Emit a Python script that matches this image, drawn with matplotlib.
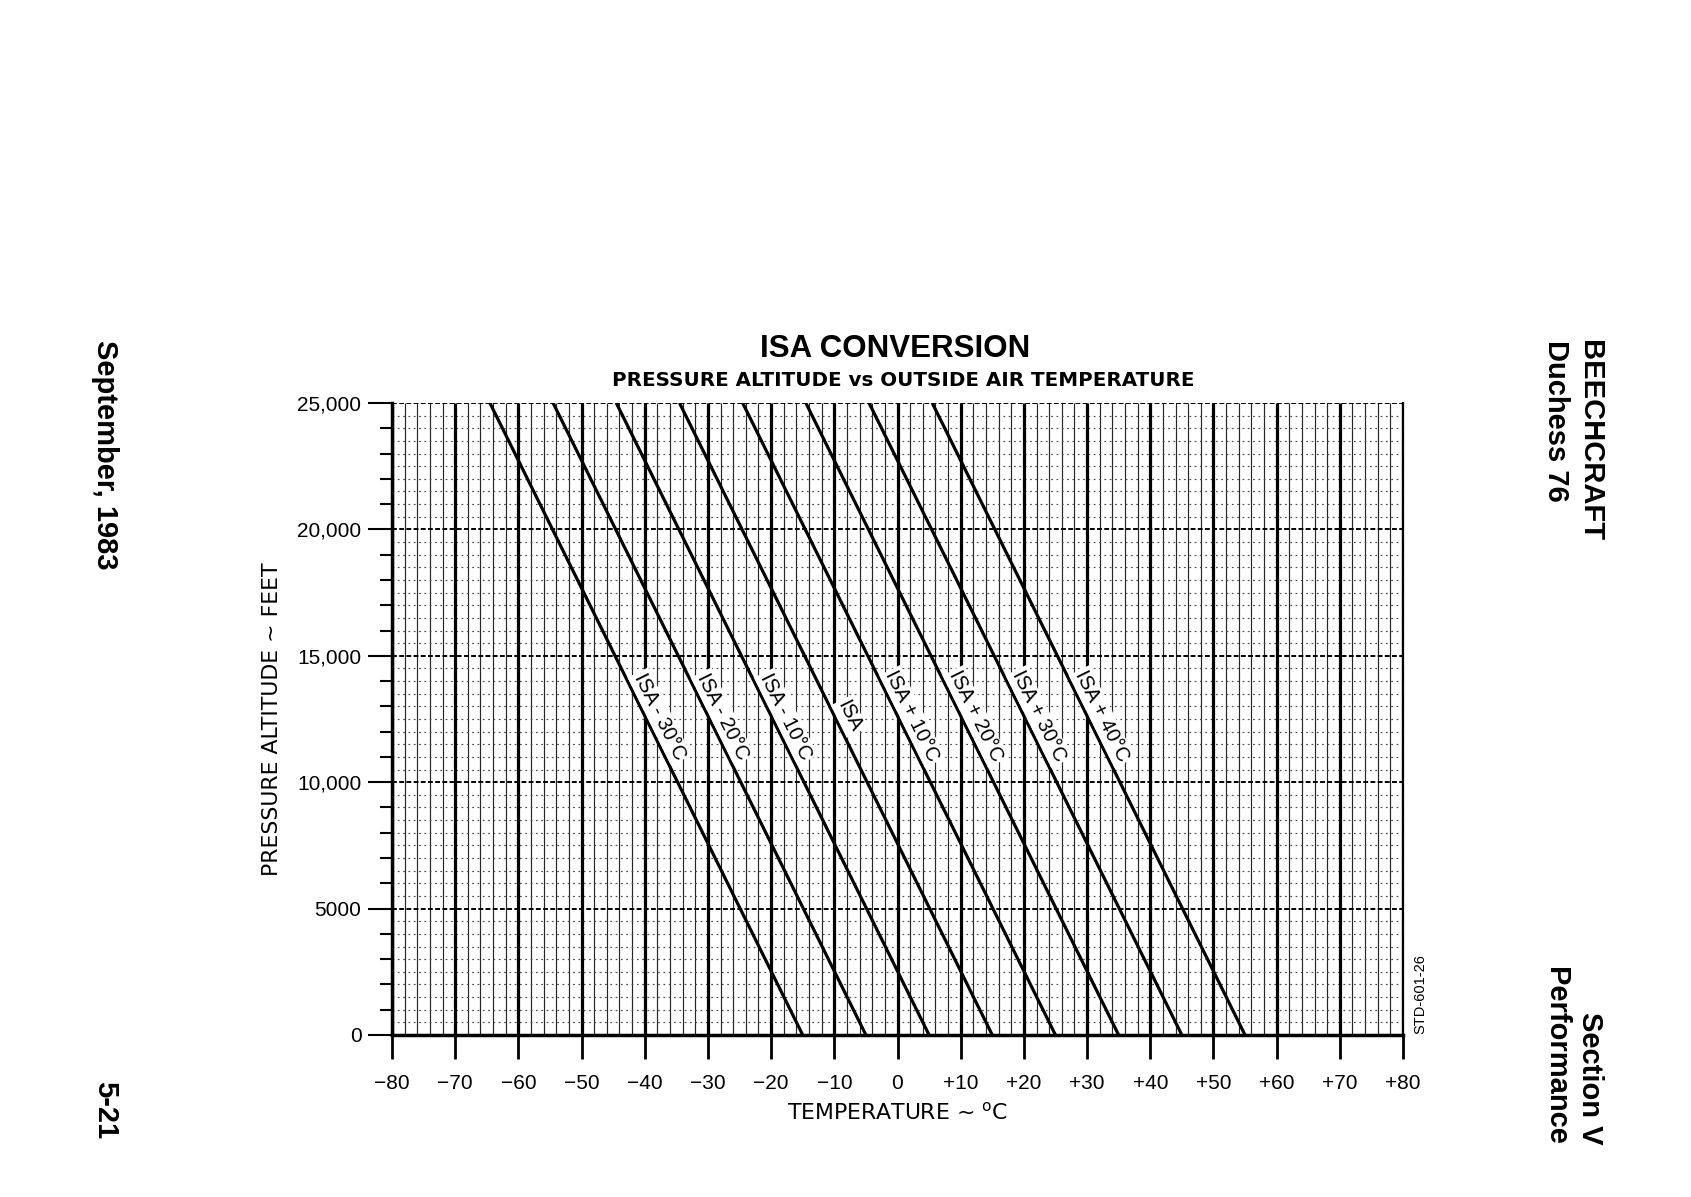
"""
ISA conversion chart: pressure altitude vs outside air temperature.
"""

import numpy as np
import matplotlib
matplotlib.use('Agg')
import matplotlib.pyplot as plt

plt.rcParams['font.family'] = ['Liberation Sans', 'DejaVu Sans']
plt.rcParams['mathtext.fontset'] = 'custom'
plt.rcParams['mathtext.rm'] = 'DejaVu Sans'

# ISA lines: OAT read at sea level and at 25,000 ft
isa_labels = ['ISA - 30°C', 'ISA - 20°C', 'ISA - 10°C', 'ISA',
              'ISA + 10°C', 'ISA + 20°C', 'ISA + 30°C', 'ISA + 40°C']
oat_sea_level = [-15, -5, 5, 15, 25, 35, 45, 55]
oat_25000 = [-64.5, -54.5, -44.5, -34.5, -24.5, -14.5, -4.5, 5.5]
altitudes = [0, 25000]

x_ticks = [-80, -70, -60, -50, -40, -30, -20, -10, 0, 10, 20, 30, 40, 50, 60, 70, 80]
x_tick_labels = ['−80', '−70', '−60', '−50', '−40', '−30', '−20', '−10', '0',
                 '+10', '+20', '+30', '+40', '+50', '+60', '+70', '+80']
y_ticks = [0, 5000, 10000, 15000, 20000, 25000]
y_tick_labels = ['0', '5000', '10,000', '15,000', '20,000', '25,000']

W, H = 1691, 1197
fig = plt.figure(figsize=(W / 100, H / 100), dpi=100)
ax = fig.add_axes([392 / W, 1 - 1035 / H, (1403 - 392) / W, (1035 - 403) / H])
ax.set_xlim(-80, 80)
ax.set_ylim(0, 25000)

# Сетка
t2 = np.arange(-80, 81, 2)
ax.vlines(t2[t2 % 10 != 0], 0, 25000, colors='0.15', lw=0.85, zorder=1)
ax.vlines(x_ticks, 0, 25000, colors='black', lw=2.3, zorder=2)

h1 = np.arange(500, 25001, 500)
ax.hlines(h1[h1 % 5000 != 0], -80, 80, colors='0.3', lw=0.85,
          linestyles=(0, (1.5, 3)), zorder=1)
ax.hlines(y_ticks[1:], -80, 80, colors='black', lw=1.4,
          linestyles=(0, (2.5, 1.2)), zorder=2)

# Линии ISA
for t0, t25 in zip(oat_sea_level, oat_25000):
    ax.plot([t0, t25], altitudes, color='black', lw=2.3, zorder=4,
            solid_capstyle='butt')

# Подписи вдоль линий
label_alt = 12600
for label, t0, t25 in zip(isa_labels, oat_sea_level, oat_25000):
    p0 = ax.transData.transform((t0, 0))
    p1 = ax.transData.transform((t25, 25000))
    angle = np.degrees(np.arctan2(p1[1] - p0[1], p1[0] - p0[0])) - 180
    t_at = np.interp(label_alt, altitudes, [t0, t25])
    ax.text(t_at + 2.3, label_alt, label, rotation=angle, rotation_mode='anchor',
            ha='center', va='center', fontsize=14.5, zorder=5,
            bbox=dict(facecolor='white', edgecolor='none', pad=1.5))

ax.set_xticks(x_ticks)
ax.set_xticklabels(x_tick_labels)
ax.set_yticks(y_ticks)
ax.set_yticklabels(y_tick_labels)
ax.set_yticks(np.arange(0, 25001, 1000), minor=True)
ax.tick_params(axis='x', direction='out', length=17, width=2, pad=11, labelsize=15)
ax.tick_params(axis='y', which='major', direction='out', length=17, width=1.5,
               pad=5, labelsize=15)
ax.tick_params(axis='y', which='minor', direction='out', length=8.5, width=1.5)

ax.spines['top'].set_visible(False)
ax.spines['left'].set_linewidth(2.5)
ax.spines['bottom'].set_linewidth(2.5)
ax.spines['right'].set_linewidth(1.6)

# Заголовки и подписи осей
fig.text(895 / W, 1 - 349 / H, 'ISA CONVERSION', ha='center', va='center',
         fontsize=22.5, fontweight='bold')
fig.text(903 / W, 1 - 381 / H, 'PRESSURE ALTITUDE vs OUTSIDE AIR TEMPERATURE',
         ha='center', va='center', fontsize=14.3, fontweight='bold',
         family='DejaVu Sans')
fig.text(272 / W, 1 - 719 / H, 'PRESSURE ALTITUDE ~ FEET', rotation=90,
         ha='center', va='center', fontsize=15.8, family='DejaVu Sans')
fig.text(897 / W, 1 - 1112 / H, r'TEMPERATURE ~ $^\mathregular{o}$C',
         ha='center', va='center', fontsize=15.8, family='DejaVu Sans')

# Поля страницы
fig.text(105 / W, 1 - 340 / H, 'September, 1983', rotation=-90, ha='center',
         va='top', fontsize=21, fontweight='bold')
fig.text(105 / W, 1 - 1110 / H, '5-21', rotation=-90, ha='center',
         va='center', fontsize=21, fontweight='bold')
fig.text(1590 / W, 1 - 340 / H, 'BEECHCRAFT', rotation=-90, ha='center',
         va='top', fontsize=21, fontweight='bold')
fig.text(1556 / W, 1 - 340 / H, 'Duchess 76', rotation=-90, ha='center',
         va='top', fontsize=21, fontweight='bold')
fig.text(1590 / W, 1 - 1145 / H, 'Section V', rotation=-90, ha='center',
         va='bottom', fontsize=21, fontweight='bold')
fig.text(1556 / W, 1 - 1145 / H, 'Performance', rotation=-90, ha='center',
         va='bottom', fontsize=21, fontweight='bold')
fig.text(1420 / W, 1 - 994 / H, 'STD-601-26', rotation=90, ha='center',
         va='center', fontsize=10.5)

fig.savefig('out.png', dpi=100)
plt.close(fig)
